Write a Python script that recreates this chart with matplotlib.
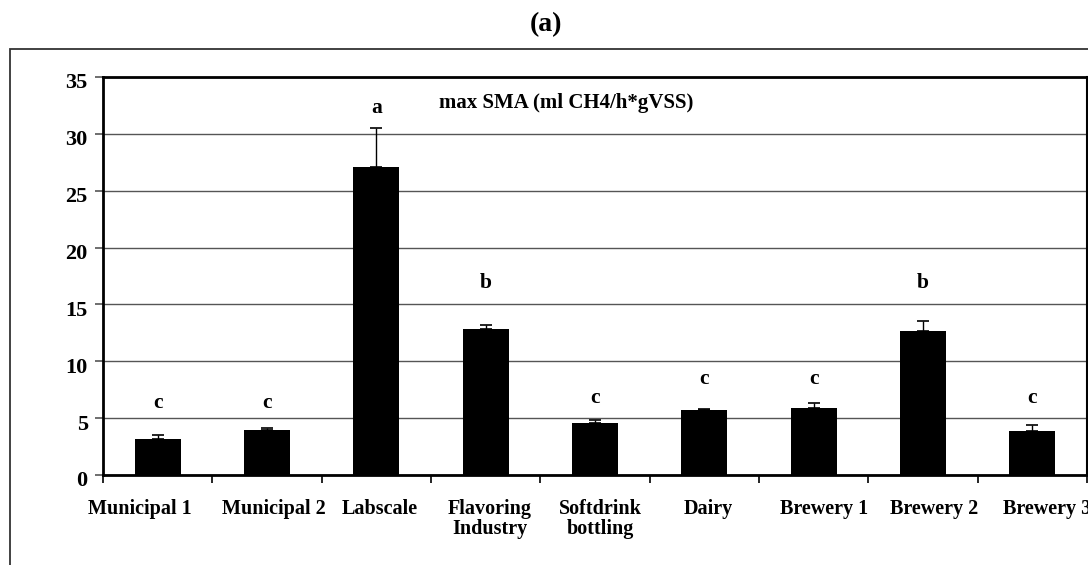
import matplotlib
matplotlib.use("Agg")
import matplotlib.pyplot as plt
from matplotlib.patches import Rectangle
import matplotlib.transforms as mtransforms
import numpy as np

plt.rcParams['font.family'] = 'Liberation Serif'
plt.rcParams['font.weight'] = 'bold'

# data
categories = ['Municipal 1', 'Municipal 2', 'Labscale', 'Flavoring\nIndustry',
              'Softdrink\nbottling', 'Dairy', 'Brewery 1', 'Brewery 2', 'Brewery 3']
sma_mean = [3.2, 4.0, 27.1, 12.8, 4.6, 5.75, 5.85, 12.7, 3.9]
sma_err = [0.3, 0.1, 3.4, 0.4, 0.2, 0.05, 0.45, 0.8, 0.5]
letters = ['c', 'c', 'a', 'b', 'c', 'c', 'c', 'b', 'c']
letter_y = [6.3, 6.3, 32.3, 16.9, 6.8, 8.4, 8.4, 16.9, 6.8]

# horizontal nudges of the category labels (pixels), as laid out in the original
label_dx = [-18, 7, 3, 4, 5, 4, 10, 11, 15]

fig = plt.figure(figsize=(10.88, 5.65), dpi=100)
ax = fig.add_axes([103/1088, 90/565, 984/1088, 398/565])

# outer frame (extends off the page, as in the reference)
fig.patches.append(Rectangle((10/1088, -0.1), 1.2, 0.1 + (565-49)/565,
                             transform=fig.transFigure, fill=False,
                             edgecolor='#333333', linewidth=1.3))
fig.text(546/1088, 1 - 25/565, '(a)', ha='center', va='center', fontsize=20)

x = np.arange(len(categories))
ax.bar(x, sma_mean, width=0.42, color='black', zorder=3)
ax.errorbar(x, sma_mean, yerr=[np.zeros(len(sma_err)), sma_err], fmt='none',
            ecolor='black', elinewidth=1, capsize=4, capthick=1.2, zorder=4)

for xi, lab, ly in zip(x, letters, letter_y):
    ax.text(xi, ly, lab, ha='center', va='center', fontsize=15.5)

ax.text((566 - 103) / 984, 0.935, 'max SMA (ml CH4/h*gVSS)', transform=ax.transAxes,
        ha='center', va='center', fontsize=15)

ax.set_xlim(-0.5, len(categories) - 0.5)
ax.set_ylim(0, 35)
ax.set_yticks(range(0, 36, 5))
ax.yaxis.grid(True, color='#555555', linewidth=1)
ax.set_axisbelow(True)

ax.set_xticks(x)
ax.set_xticklabels(categories, fontsize=14.5, linespacing=1.0)
ax.set_xticks(np.arange(-0.5, len(categories), 1), minor=True)
ax.tick_params(axis='x', which='major', length=0, pad=17)
ax.tick_params(axis='x', which='minor', length=6, width=1.2, direction='out')
ax.tick_params(axis='y', length=6, width=1.2, labelsize=16, pad=5, color='#555555')

for lbl, dx in zip(ax.get_xticklabels(), label_dx):
    lbl.set_transform(lbl.get_transform() +
                      mtransforms.ScaledTranslation(dx / 100, 0, fig.dpi_scale_trans))
for lbl in ax.get_yticklabels():
    lbl.set_transform(lbl.get_transform() +
                      mtransforms.ScaledTranslation(0, -4 / 100, fig.dpi_scale_trans))

for side in ['left', 'bottom', 'top']:
    ax.spines[side].set_linewidth(2)
ax.spines['right'].set_linewidth(1.5)

fig.savefig('out.png', dpi=100)
